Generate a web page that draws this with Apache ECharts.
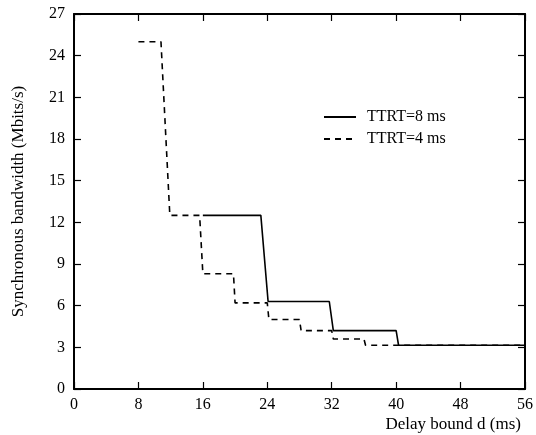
<!DOCTYPE html>
<html lang="en">
<head>
	<meta charset="UTF-8">
	<title>Synchronous bandwidth vs delay bound</title>
	<script type="text/javascript" src="https://cdn.jsdelivr.net/npm/echarts@6/dist/echarts.min.js"></script>
	<style>
		html, body { margin: 0; padding: 0; background: #fff; }
	</style>
</head>
<body>
	<div id="main" style="width: 536px;height: 435px;"></div>
	<script type="text/javascript">
		// values
		var seriesNames = ['TTRT=8 ms', 'TTRT=4 ms'];
		var ttrt8X = [16, 23.2, 24.1, 31.7, 32.2, 40.0, 40.3, 56];
		var ttrt8Y = [12.5, 12.5, 6.3, 6.3, 4.2, 4.2, 3.15, 3.15];
		var ttrt4X = [8, 10.8, 11.9, 15.6, 16.0, 19.8, 20.0, 24.0, 24.2, 28.0, 28.2, 32.0, 32.2, 36.0, 36.2, 56];
		var ttrt4Y = [25, 25, 12.5, 12.5, 8.3, 8.3, 6.2, 6.2, 5.0, 5.0, 4.2, 4.2, 3.6, 3.6, 3.15, 3.15];
		var xTicks = [0, 8, 16, 24, 32, 40, 48, 56];
		var yTicks = [0, 3, 6, 9, 12, 15, 18, 21, 24, 27];

		function pairs(xs, ys) {
			return xs.map(function (x, i) { return [x, ys[i]]; });
		}

		var font = '"Liberation Serif", "DejaVu Serif", serif';
		var axisLine = { show: true, onZero: false, lineStyle: { color: '#000', width: 2 } };
		var tick = { show: true, inside: true, length: 7, lineStyle: { color: '#000', width: 1.2 } };

		var myChart = echarts.init(document.getElementById('main'));
		var option = {
			animation: false,
			textStyle: { fontFamily: font, color: '#000' },
			grid: { left: 74, right: 8, top: 14, bottom: 46 },
			legend: {
				orient: 'vertical',
				left: 318,
				top: 104,
				itemWidth: 32,
				itemHeight: 14,
				itemGap: 6,
				itemStyle: { opacity: 0 },
				textStyle: { fontFamily: font, fontSize: 16, color: '#000', padding: [0, 0, 0, 6] },
				data: seriesNames
			},
			xAxis: [{
				type: 'value',
				min: xTicks[0], max: xTicks[xTicks.length - 1], interval: 8,
				axisLine: axisLine, axisTick: tick, splitLine: { show: false },
				axisLabel: { fontFamily: font, fontSize: 16, color: '#000', margin: 8 },
				name: 'Delay bound d (ms)',
				nameLocation: 'end',
				nameGap: -4,
				nameTextStyle: { fontFamily: font, fontSize: 17, color: '#000', align: 'right', verticalAlign: 'top', padding: [27, 0, 0, 0] }
			}, {
				type: 'value', position: 'top',
				min: xTicks[0], max: xTicks[xTicks.length - 1], interval: 8,
				axisLine: axisLine, axisTick: tick, axisLabel: { show: false }, splitLine: { show: false }
			}],
			yAxis: [{
				type: 'value',
				min: yTicks[0], max: yTicks[yTicks.length - 1], interval: 3,
				axisLine: axisLine, axisTick: tick, splitLine: { show: false },
				axisLabel: { fontFamily: font, fontSize: 16, color: '#000', margin: 9 },
				name: 'Synchronous bandwidth (Mbits/s)',
				nameLocation: 'middle',
				nameGap: 47,
				nameRotate: 90,
				nameTextStyle: { fontFamily: font, fontSize: 17, color: '#000' }
			}, {
				type: 'value', position: 'right',
				min: yTicks[0], max: yTicks[yTicks.length - 1], interval: 3,
				axisLine: axisLine, axisTick: tick, axisLabel: { show: false }, splitLine: { show: false }
			}],
			series: [{
				name: seriesNames[0],
				type: 'line',
				symbol: 'none',
				data: pairs(ttrt8X, ttrt8Y),
				lineStyle: { color: '#000', width: 1.6, type: 'solid' },
				itemStyle: { color: '#000' }
			}, {
				name: seriesNames[1],
				type: 'line',
				symbol: 'none',
				data: pairs(ttrt4X, ttrt4Y),
				lineStyle: { color: '#000', width: 1.6, type: [6, 5] },
				itemStyle: { color: '#000' }
			}]
		};
		myChart.setOption(option);
	</script>
</body>
</html>
